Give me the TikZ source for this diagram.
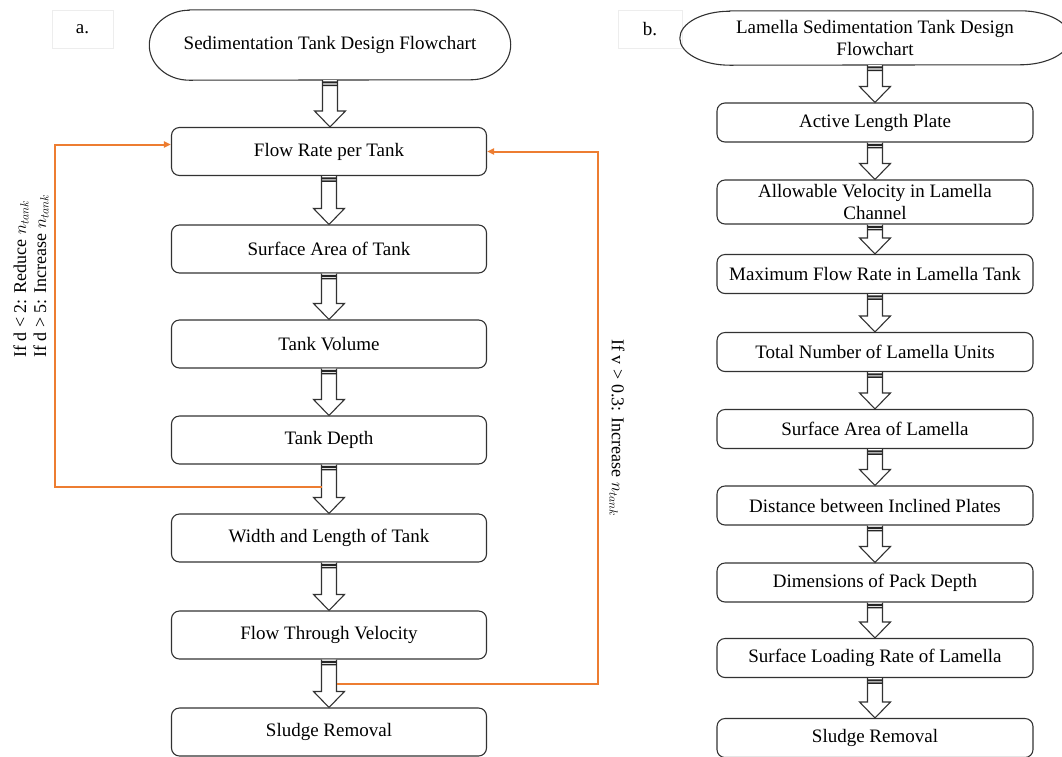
\documentclass[tikz,border=0pt]{standalone}
\usepackage{fontspec}
\setmainfont{Liberation Serif}
\usetikzlibrary{calc,arrows.meta}

\definecolor{loopc}{RGB}{237,125,49}
\definecolor{edgec}{RGB}{50,50,50}

\tikzset{
  boxtext/.style={font=\fontsize{19}{22}\selectfont, text=black},
  stepbox/.style={boxtext, draw=edgec, line width=1.1pt, rounded corners=8pt,
    inner sep=0pt, align=center},
  abox/.style={stepbox, minimum width=315pt, minimum height=48pt},
  bbox/.style={stepbox, minimum width=316pt, minimum height=39pt},
  termnode/.style={boxtext, inner sep=0pt, align=center},
  termline/.style={draw=edgec, line width=1.1pt},
  tagbox/.style={boxtext, draw=black!7, line width=0.6pt, minimum width=61pt,
    minimum height=38pt, inner sep=0pt},
  blockshape/.style={draw=edgec, line width=1.1pt, fill=white, line join=miter},
  fbline/.style={draw=loopc, line width=2pt,
    -{Triangle[length=7pt,width=6pt]}},
  fbtext/.style={font=\fontsize{18}{20}\selectfont, text=black},
}

% rounded terminator outline around a node: #1 node, #2 end radius (x), #3 half height
\newcommand{\termshape}[3]{%
  \draw[termline] ($(#1.north west)+(#2,0)$) -- ($(#1.north east)+(-#2,0)$)
    arc[start angle=90, end angle=-90, x radius=#2 pt, y radius=#3 pt]
    -- ($(#1.south west)+(#2,0)$)
    arc[start angle=270, end angle=90, x radius=#2 pt, y radius=#3 pt] -- cycle;}

% hollow block arrow from the bottom of #1 to the top of #2
\newcommand{\blockarrow}[2]{%
  \draw[blockshape] let \p1=(#1.south), \p2=(#2.north) in
    (\x1-7.5pt,\y1) -- (\x1-7.5pt,\y2+16pt) -- (\x1-15.5pt,\y2+16pt) -- (\x1,\y2)
    -- (\x1+15.5pt,\y2+16pt) -- (\x1+7.5pt,\y2+16pt) -- (\x1+7.5pt,\y1);
  \fill[black!85] let \p1=(#1.south) in
    (\x1-7.5pt,\y1-1.2pt) rectangle (\x1+7.5pt,\y1-3.2pt)
    (\x1-7.5pt,\y1-4.4pt) rectangle (\x1+7.5pt,\y1-5.8pt);}

\begin{document}
\begin{tikzpicture}[x=1pt,y=-1pt]
\useasboundingbox (0,0) rectangle (1062,756);

% ---------------- panel a ----------------
\node[tagbox] (taga) at (82.5,29) {a.};
\node[termnode, minimum width=361pt, minimum height=70pt] (ta) at (330,45)
  {Sedimentation Tank Design Flowchart};
\termshape{ta}{40}{35}

\node[abox] (fr)  at (329,151.5) {Flow Rate per Tank};
\node[abox] (sa)  at (329,249)   {Surface Area of Tank};
\node[abox] (tv)  at (329,344)   {Tank Volume};
\node[abox] (td)  at (329,440)   {Tank Depth};
\node[abox] (wl)  at (329,538)   {Width and Length of Tank};
\node[abox] (ftv) at (329,635)   {Flow Through Velocity};
\node[abox] (sr)  at (329,732)   {Sludge Removal};

\blockarrow{ta}{fr}
\blockarrow{fr}{sa}
\blockarrow{sa}{tv}
\blockarrow{tv}{td}
\blockarrow{td}{wl}
\blockarrow{wl}{ftv}
\blockarrow{ftv}{sr}

% feedback loops
\coordinate (loopA) at ($(td.south)+(-7.5,22)$);
\coordinate (sideA) at (55,0);
\draw[fbline] (loopA) -- (loopA -| sideA) |- ($(fr.west)+(0,-7)$);
\coordinate (loopB) at ($(ftv.south)+(7.5,24)$);
\coordinate (sideB) at (598,0);
\draw[fbline] (loopB) -- (loopB -| sideB) |- (fr.east);

\node[fbtext, rotate=90, align=left] (labA) at (31,276)
  {If d < 2: Reduce $n_{tank}$\\If d > 5: Increase $n_{tank}$};
\node[fbtext, rotate=-90] (labB) at (617,428) {If v > 0.3: Increase $n_{tank}$};

% ---------------- panel b ----------------
\node[tagbox, minimum width=64pt] (tagb) at (650,29) {b.};
\node[termnode, minimum width=390pt, minimum height=54pt] (tb) at (875,38)
  {Lamella Sedimentation Tank Design\\Flowchart};
\termshape{tb}{50}{27}

\node[bbox] (alp) at (875,122.5) {Active Length Plate};
\node[bbox, minimum height=44pt] (av) at (875,202) {Allowable Velocity in Lamella\\Channel};
\node[bbox] (mfr) at (875,274)   {Maximum Flow Rate in Lamella Tank};
\node[bbox] (tn)  at (875,352)   {Total Number of Lamella Units};
\node[bbox] (sal) at (875,429)   {Surface Area of Lamella};
\node[bbox] (dip) at (875,505.5) {Distance between Inclined Plates};
\node[bbox] (dpd) at (875,582.5) {Dimensions of Pack Depth};
\node[bbox] (slr) at (875,658)   {Surface Loading Rate of Lamella};
\node[bbox] (srb) at (875,738)   {Sludge Removal};

\blockarrow{tb}{alp}
\blockarrow{alp}{av}
\blockarrow{av}{mfr}
\blockarrow{mfr}{tn}
\blockarrow{tn}{sal}
\blockarrow{sal}{dip}
\blockarrow{dip}{dpd}
\blockarrow{dpd}{slr}
\blockarrow{slr}{srb}
\end{tikzpicture}
\end{document}
